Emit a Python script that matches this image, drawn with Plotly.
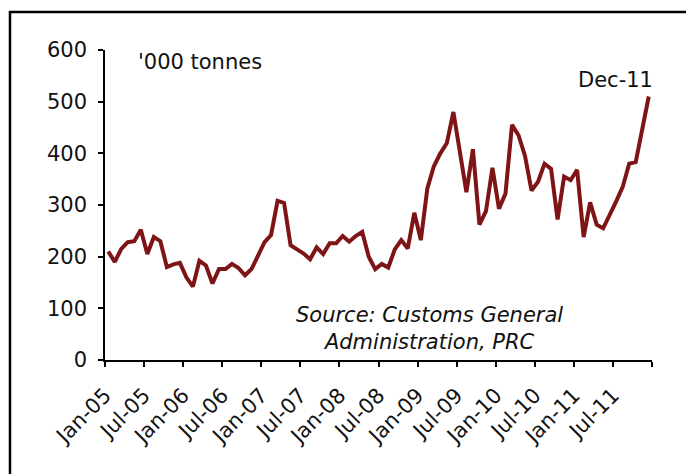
import pandas as pd
import plotly.graph_objects as go

# Monthly imports, '000 tonnes, Jan-2005 .. Dec-2011
months = pd.date_range("2005-01-01", periods=84, freq="MS")
imports = [
    210, 190, 215, 228, 230, 252, 205, 238, 230, 180, 185, 188,   # 2005
    160, 142, 192, 183, 148, 176, 176, 186, 178, 164, 176, 200,   # 2006
    228, 242, 308, 304, 222, 214, 206, 195, 218, 205, 226, 226,   # 2007
    240, 229, 240, 248, 200, 176, 186, 179, 214, 232, 216, 285,   # 2008
    232, 332, 375, 400, 420, 480, 405, 325, 408, 262, 288, 372,   # 2009
    293, 322, 455, 435, 395, 328, 345, 380, 370, 272, 355, 348,   # 2010
    368, 238, 305, 262, 255, 280, 307, 335, 380, 383, 450, 510,   # 2011
]
tick_labels = ["Jan-05", "Jul-05", "Jan-06", "Jul-06", "Jan-07", "Jul-07",
               "Jan-08", "Jul-08", "Jan-09", "Jul-09", "Jan-10", "Jul-10",
               "Jan-11", "Jul-11", ""]
y_ticks = [0, 100, 200, 300, 400, 500, 600]

# position of each month on the category axis
x_pos = [(d.year - months[0].year) * 12 + (d.month - months[0].month) for d in months]
tick_pos = [i * 6 - 0.5 for i in range(len(tick_labels))]

FONT = "Verdana, DejaVu Sans, sans-serif"
LINE = "#7F1416"
TEXT = "#111111"

fig = go.Figure()
fig.add_trace(go.Scatter(
    x=x_pos, y=imports, mode="lines",
    line=dict(color=LINE, width=4),
    hoverinfo="skip", showlegend=False,
))

fig.update_layout(
    width=686, height=474,
    margin=dict(l=105, r=34, t=50, b=114),
    paper_bgcolor="white", plot_bgcolor="white",
    font=dict(family=FONT, size=21, color=TEXT),
    xaxis=dict(
        range=[-0.5, 83.5], tickmode="array", tickvals=tick_pos, ticktext=tick_labels,
        tickangle=-45, showgrid=False, zeroline=False,
        showline=True, linecolor="black", linewidth=1.5,
        ticks="outside", ticklen=5, tickwidth=1.5, tickcolor="black",
        tickfont=dict(family=FONT, size=21, color=TEXT),
        ticklabelstandoff=8,
    ),
    yaxis=dict(
        range=[0, 600], tickmode="array", tickvals=y_ticks,
        showgrid=False, zeroline=False,
        showline=True, linecolor="black", linewidth=1.5,
        ticks="outside", ticklen=5, tickwidth=1.5, tickcolor="black",
        tickfont=dict(family=FONT, size=21, color=TEXT),
        ticklabelstandoff=7,
    ),
    shapes=[dict(
        type="rect", xref="paper", yref="paper",
        x0=-0.1737, x1=1.3, y0=-0.6, y1=1.1226,
        line=dict(color="black", width=2.5), fillcolor="rgba(0,0,0,0)",
    )],
    annotations=[
        dict(text="'000 tonnes", xref="paper", yref="paper",
             x=0.056, y=0.961, xanchor="left", yanchor="middle",
             showarrow=False, font=dict(size=21)),
        dict(text="Dec-11", xref="paper", yref="paper",
             x=1.005, y=0.903, xanchor="right", yanchor="middle",
             showarrow=False, font=dict(size=21)),
        dict(text="<i>Source: Customs General<br>Administration, PRC</i>",
             xref="paper", yref="paper", x=0.594, y=0.103,
             xanchor="center", yanchor="middle", align="center",
             showarrow=False, font=dict(size=21)),
    ],
)

fig.write_html("out.html")
